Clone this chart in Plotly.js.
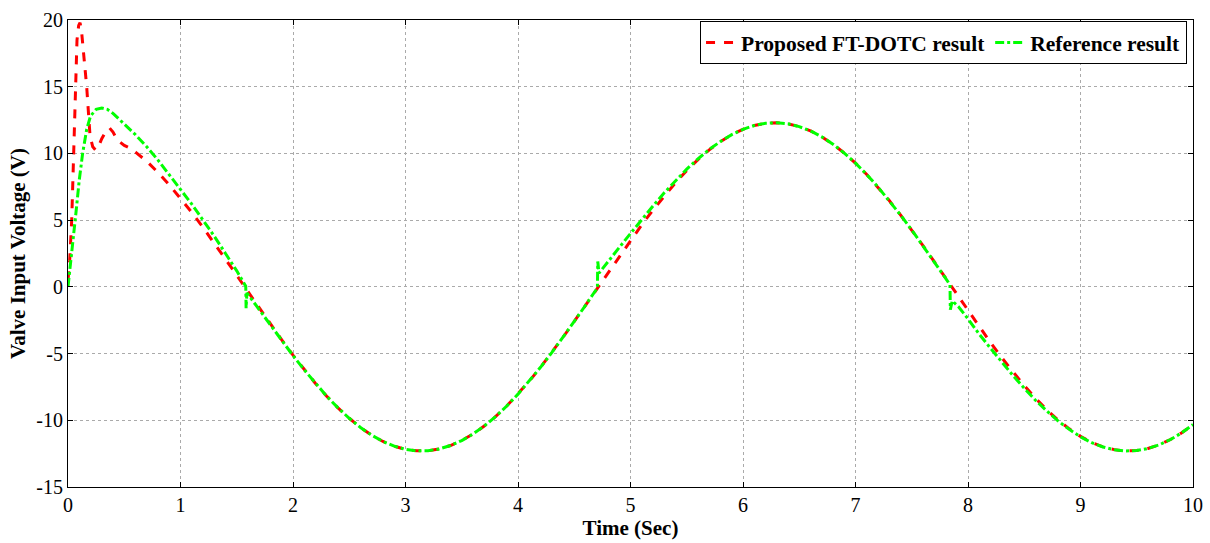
<!DOCTYPE html>
<html>
<head>
<meta charset="utf-8">
<script src="https://cdn.plot.ly/plotly-3.0.1.min.js"></script>
<style>html,body{margin:0;padding:0;background:#fff;}#chart{width:1210px;height:543px;}</style>
</head>
<body>
<div id="chart"></div>
<script>
// Proposed FT-DOTC result (red dashed)
const redT = [0, 0.015, 0.033, 0.05, 0.062, 0.08, 0.095, 0.107, 0.12, 0.14, 0.166, 0.196, 0.22, 0.245, 0.27, 0.3, 0.34, 0.37, 0.4, 0.44, 0.5, 0.55, 0.6,
  0.7, 0.8, 0.9, 1.0, 1.1, 1.2, 1.3, 1.4, 1.5, 1.6, 1.7, 1.8, 1.9, 2.0, 2.1, 2.2, 2.3, 2.4, 2.5, 2.6, 2.7, 2.8, 2.9, 3.0,
  3.1, 3.2, 3.3, 3.4, 3.5, 3.6, 3.7, 3.8, 3.9, 4.0, 4.1, 4.2, 4.3, 4.4, 4.5, 4.6, 4.7, 4.8, 4.9, 5.0,
  5.1, 5.2, 5.3, 5.4, 5.5, 5.6, 5.7, 5.8, 5.9, 6.0, 6.1, 6.2, 6.3, 6.4, 6.5, 6.6, 6.7, 6.8, 6.9, 7.0,
  7.1, 7.2, 7.3, 7.4, 7.5, 7.6, 7.7, 7.8, 7.9, 8.0, 8.1, 8.2, 8.3, 8.4, 8.5, 8.6, 8.7, 8.8, 8.9, 9.0,
  9.1, 9.2, 9.3, 9.4, 9.5, 9.6, 9.7, 9.8, 9.9, 10.0];
const redV = [0.5, 2.0, 5.0, 10.0, 15.0, 18.5, 19.6, 19.8, 19.2, 17.4, 15.0, 11.3, 10.5, 10.25, 10.5, 11.1, 11.7, 11.9, 11.6, 11.0, 10.6, 10.4, 10.1,
  9.41, 8.57, 7.65, 6.65, 5.58, 4.46, 3.29, 2.09, 0.87, -0.36, -1.58, -2.79, -3.98, -5.12, -6.21, -7.24, -8.20, -9.07, -9.85, -10.54, -11.12, -11.59, -11.94, -12.18,
  -12.29, -12.28, -12.15, -11.89, -11.52, -11.03, -10.43, -9.73, -8.93, -8.04, -7.07, -6.03, -4.93, -3.78, -2.59, -1.38, -0.15, 1.08, 2.29, 3.49,
  4.65, 5.76, 6.82, 7.81, 8.72, 9.54, 10.27, 10.89, 11.41, 11.81, 12.09, 12.26, 12.30, 12.22, 12.01, 11.69, 11.25, 10.69, 10.03, 9.27,
  8.42, 7.48, 6.47, 5.39, 4.26, 3.09, 1.89, 0.66, -0.57, -1.79, -3.00, -4.17, -5.31, -6.39, -7.40, -8.35, -9.21, -9.98, -10.64, -11.21,
  -11.66, -11.99, -12.20, -12.30, -12.27, -12.11, -11.84, -11.44, -10.94, -10.32];

// Reference result (green dash-dot)
const greenT = [0, 0.02, 0.047, 0.07, 0.1, 0.13, 0.166, 0.2, 0.25, 0.3, 0.35, 0.4, 0.5, 0.6,
  0.7, 0.8, 0.9, 1.0, 1.1, 1.2, 1.3, 1.4, 1.5, 1.58, 1.583, 1.59, 1.647, 1.7, 1.8, 1.9, 2.0, 2.1, 2.2, 2.3, 2.4, 2.5, 2.6, 2.7, 2.8, 2.9, 3.0,
  3.1, 3.2, 3.3, 3.4, 3.5, 3.6, 3.7, 3.8, 3.9, 4.0, 4.1, 4.2, 4.3, 4.4, 4.5, 4.6, 4.7, 4.706, 4.709, 4.72, 4.8, 4.9, 5.0,
  5.1, 5.2, 5.3, 5.4, 5.5, 5.6, 5.7, 5.8, 5.9, 6.0, 6.1, 6.2, 6.3, 6.4, 6.5, 6.6, 6.7, 6.8, 6.9, 7.0,
  7.1, 7.2, 7.3, 7.4, 7.5, 7.6, 7.7, 7.8, 7.84, 7.843, 7.86, 7.914, 8.0, 8.1, 8.2, 8.3, 8.4, 8.5, 8.6, 8.7, 8.8, 8.9, 9.0,
  9.1, 9.2, 9.3, 9.4, 9.5, 9.6, 9.7, 9.8, 9.9, 10.0];
const greenV = [0, 1.5, 3.3, 5.5, 8.0, 10.0, 11.8, 12.8, 13.3, 13.4, 13.3, 13.0, 12.2, 11.4,
  10.5, 9.5, 8.4, 7.3, 6.2, 5.0, 3.8, 2.5, 1.2, 0.05, -1.6, -0.45, -1.1, -1.75, -2.9, -4.05, -5.15, -6.22, -7.25, -8.2, -9.07, -9.85, -10.54, -11.12, -11.59, -11.94, -12.18,
  -12.29, -12.28, -12.15, -11.89, -11.52, -11.03, -10.43, -9.73, -8.93, -8.04, -7.07, -6.03, -4.93, -3.78, -2.59, -1.38, -0.15, 0.05, 1.9, 1.03, 1.85, 2.95, 4.0,
  5.05, 6.06, 7.05, 7.96, 8.82, 9.6, 10.3, 10.9, 11.41, 11.81, 12.09, 12.26, 12.30, 12.22, 12.01, 11.69, 11.25, 10.69, 10.03, 9.27,
  8.42, 7.48, 6.47, 5.39, 4.26, 3.09, 1.89, 0.66, 0.15, -1.72, -1.05, -1.47, -2.4, -3.55, -4.6, -5.65, -6.65, -7.6, -8.5, -9.3, -10.05, -10.68, -11.24,
  -11.68, -12.0, -12.21, -12.30, -12.27, -12.11, -11.84, -11.44, -10.94, -10.32];

const xTicks = [0, 1, 2, 3, 4, 5, 6, 7, 8, 9, 10];
const yTicks = [-15, -10, -5, 0, 5, 10, 15, 20];

const serif = "Liberation Serif, Times New Roman, serif";

const traces = [
  {x: redT, y: redV, type: 'scatter', mode: 'lines', name: '<b>Proposed FT-DOTC result</b>',
   line: {color: '#ff0000', width: 3, dash: 'dash'}},
  {x: greenT, y: greenV, type: 'scatter', mode: 'lines', name: '<b>Reference result</b>',
   line: {color: '#00ff00', width: 3, dash: 'dashdot'}}
];

const axisCommon = {
  showline: true, mirror: 'ticks', linecolor: '#000', linewidth: 1,
  ticks: 'inside', ticklen: 5, tickcolor: '#000',
  showgrid: true, gridcolor: '#aaa', griddash: 'dot', gridwidth: 1,
  zeroline: false, tickfont: {family: serif, size: 20, color: '#000'}
};

const layout = {
  width: 1210, height: 543,
  margin: {l: 68, r: 17, t: 20, b: 56},
  paper_bgcolor: '#fff', plot_bgcolor: '#fff',
  showlegend: true,
  legend: {orientation: 'h', x: 0.9947, xanchor: 'right', y: 0.998, yanchor: 'top',
    bgcolor: '#fff', bordercolor: '#000', borderwidth: 1,
    font: {family: serif, size: 21.5, color: '#000'}, tracegroupgap: 0, itemwidth: 30},
  xaxis: Object.assign({}, axisCommon, {range: [0, 10], tickvals: xTicks, ticktext: xTicks.map(String), ticklabelstandoff: 0,
    title: {text: '<b>Time (Sec)</b>', font: {family: serif, size: 21, color: '#000'}, standoff: 0}}),
  yaxis: Object.assign({}, axisCommon, {range: [-15, 20], tickvals: yTicks, ticktext: yTicks.map(String),
    title: {text: '<b>Valve Input Voltage (V)</b>', font: {family: serif, size: 21, color: '#000'}, standoff: 4}})
};

Plotly.newPlot('chart', traces, layout, {displayModeBar: false, staticPlot: true});
</script>
</body>
</html>
